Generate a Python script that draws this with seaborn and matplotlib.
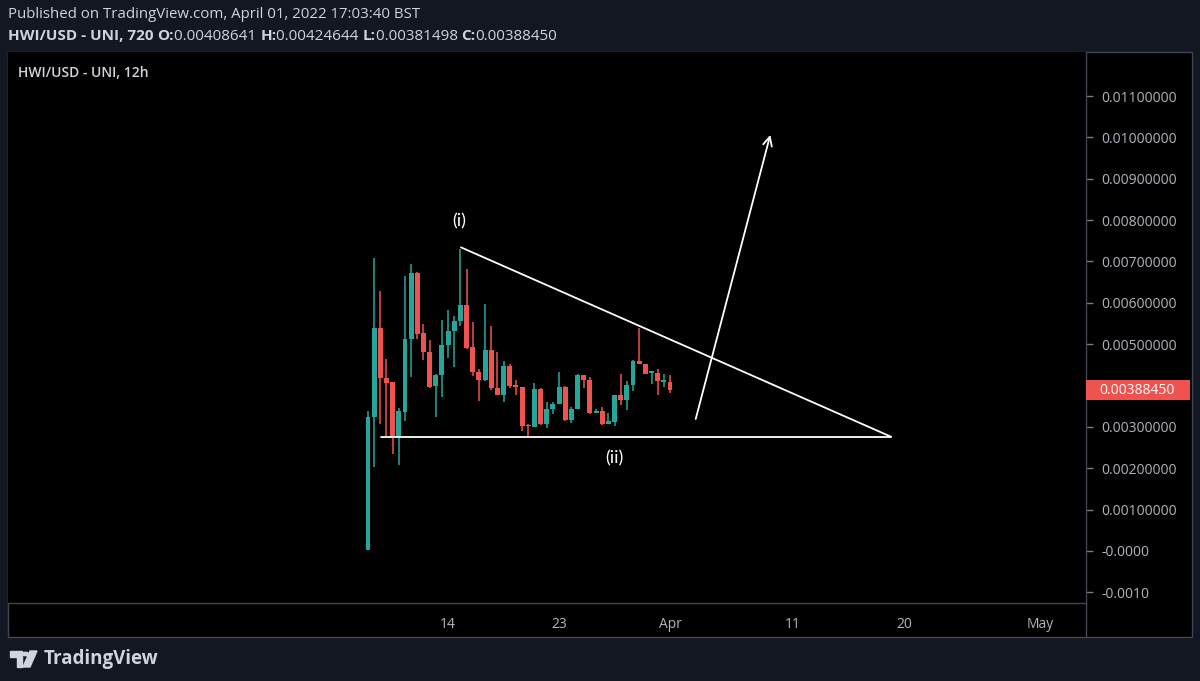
# HWI/USD 12h candles - TradingView style snapshot
import numpy as np
import pandas as pd
import matplotlib
matplotlib.use("Agg")
import matplotlib.pyplot as plt
import matplotlib.dates as mdates
from matplotlib.patches import Rectangle, Polygon, Circle
import seaborn as sns

#----------------------------------
# data
#----------------------------------
start_time = "2022-03-07 12:00"
opens = [0.00002, 0.00325, 0.00538, 0.00417, 0.00408, 0.00275, 0.00336, 0.00513, 0.00672, 0.00526,
         0.00480, 0.00398, 0.00425, 0.00497, 0.00531, 0.00555, 0.00594, 0.00493, 0.00433, 0.00413,
         0.00486, 0.00394, 0.00376, 0.00448, 0.00401, 0.00397, 0.00303, 0.00299, 0.00391, 0.00308,
         0.00343, 0.00356, 0.00397, 0.00316, 0.00344, 0.00425, 0.00413, 0.00334, 0.00339, 0.00308,
         0.00312, 0.00377, 0.00364, 0.00401, 0.00459, 0.00451, 0.00431, 0.00431, 0.00409, 0.00408641]
highs = [0.00338, 0.00709, 0.00628, 0.00465, 0.00408, 0.00346, 0.00666, 0.00695, 0.00675, 0.00548,
         0.00511, 0.00427, 0.00558, 0.00582, 0.00569, 0.00731, 0.00683, 0.00553, 0.00441, 0.00597,
         0.00545, 0.00482, 0.00460, 0.00453, 0.00414, 0.00397, 0.00308, 0.00407, 0.00393, 0.00359,
         0.00361, 0.00433, 0.00399, 0.00347, 0.00428, 0.00425, 0.00420, 0.00343, 0.00347, 0.00334,
         0.00377, 0.00429, 0.00410, 0.00461, 0.00540, 0.00451, 0.00436, 0.00441, 0.00429, 0.00424644]
lows = [0.00001, 0.00202, 0.00307, 0.00277, 0.00235, 0.00208, 0.00315, 0.00420, 0.00513, 0.00461,
        0.00394, 0.00324, 0.00372, 0.00467, 0.00444, 0.00544, 0.00488, 0.00422, 0.00362, 0.00412,
        0.00390, 0.00376, 0.00359, 0.00393, 0.00378, 0.00289, 0.00279, 0.00299, 0.00305, 0.00298,
        0.00330, 0.00355, 0.00315, 0.00309, 0.00344, 0.00394, 0.00331, 0.00333, 0.00305, 0.00308,
        0.00301, 0.00352, 0.00340, 0.00386, 0.00451, 0.00428, 0.00404, 0.00378, 0.00396, 0.00381498]
closes = [0.00325, 0.00538, 0.00417, 0.00406, 0.00275, 0.00338, 0.00513, 0.00672, 0.00525, 0.00480,
          0.00397, 0.00426, 0.00498, 0.00531, 0.00556, 0.00594, 0.00491, 0.00433, 0.00413, 0.00486,
          0.00393, 0.00376, 0.00448, 0.00400, 0.00396, 0.00301, 0.00301, 0.00391, 0.00307, 0.00344,
          0.00356, 0.00397, 0.00316, 0.00344, 0.00425, 0.00413, 0.00333, 0.00339, 0.00308, 0.00313,
          0.00377, 0.00364, 0.00402, 0.00459, 0.00451, 0.00428, 0.00434, 0.00410, 0.00412, 0.00388450]

# 0.004 label is hidden behind the last-price tag in the original
ytick_values = [-0.001, 0.0, 0.001, 0.002, 0.003, 0.005, 0.006, 0.007, 0.008, 0.009, 0.010, 0.011]
ytick_labels = ["-0.0010", "-0.0000", "0.00100000", "0.00200000", "0.00300000",
                "0.00500000", "0.00600000", "0.00700000", "0.00800000", "0.00900000",
                "0.01000000", "0.01100000"]
xtick_dates = ["2022-03-14", "2022-03-23", "2022-04-01", "2022-04-11", "2022-04-20", "2022-05-01"]
xtick_labels = ["14", "23", "Apr", "11", "20", "May"]

header_line1 = "Published on TradingView.com, April 01, 2022 17:03:40 BST"
symbol_title = "HWI/USD - UNI, 12h"
last_price_label = "0.00388450"

df = pd.DataFrame({"open": opens, "high": highs, "low": lows, "close": closes})
df["time"] = pd.date_range(start_time, periods=len(df), freq="12h")
df["x"] = mdates.date2num(df["time"])
df["up"] = df["close"] >= df["open"]

#----------------------------------
# style
#----------------------------------
sns.set_theme(style="dark")
plt.rcParams['font.family'] = ['Open Sans', 'DejaVu Sans']

GREEN = "#26a69a"
RED = "#ef5350"
TXT = "#b2b5be"
GRID = "#434651"
BAND = "#131722"

W, H = 1200, 681
fig = plt.figure(figsize=(W / 100, H / 100), dpi=100, facecolor=BAND)

def fx(px):
    return px / W

def fy(py):
    return 1 - py / H

# black chart panel with border
fig.add_artist(Rectangle((fx(8), fy(637)), fx(1192 - 8), (637 - 52) / H,
                         transform=fig.transFigure, facecolor="black",
                         edgecolor=GRID, lw=1.0, zorder=0))

ax = fig.add_axes([fx(8), fy(603), fx(1086 - 8), (603 - 52) / H])
ax.set_facecolor("black")

#----------------------------------
# candles
#----------------------------------
col = np.where(df["up"], GREEN, RED)
ax.vlines(df["x"], df["low"], df["high"], colors=col, lw=1.1, zorder=2)
body_bot = np.minimum(df["open"], df["close"])
body_h = np.maximum((df["close"] - df["open"]).abs(), 0.00004)
ax.bar(df["x"], body_h, bottom=body_bot, width=0.40, color=col, lw=0, zorder=3)

#----------------------------------
# drawings (triangle, arrow, wave labels)
#----------------------------------
apr1 = mdates.date2num(pd.Timestamp("2022-04-01"))
px_day = 12.327

def dx(px):
    return apr1 + (px - 670) / px_day

ax.plot([dx(461), dx(891)], [0.007342, 0.002762], color="white", lw=1.3, zorder=4)
ax.plot([dx(381), dx(891)], [0.002762, 0.002762], color="white", lw=1.3, zorder=4)
ax.annotate("", xy=(dx(771), 0.010128), xytext=(dx(695), 0.003126),
            arrowprops=dict(arrowstyle="->", color="white", lw=1.3,
                            mutation_scale=16), zorder=4)
ax.text(dx(459), 0.00797, "(i)", color="white", fontsize=13, ha="center", va="center",
        family=["Lato", "DejaVu Sans"])
ax.text(dx(614), 0.00225, "(ii)", color="white", fontsize=13, ha="center", va="center",
        family=["Lato", "DejaVu Sans"])

#----------------------------------
# axes
#----------------------------------
ax.set_xlim(dx(8), dx(1086))
ax.set_ylim(-0.00126, 0.012067)
ax.grid(False)

ax.yaxis.tick_right()
ax.set_yticks(ytick_values)
ax.set_yticklabels(ytick_labels)
ax.tick_params(axis="y", direction="out", length=5, width=1, color="#787b86",
               labelcolor=TXT, labelsize=10, pad=6, right=True, left=False)

ax.set_xticks(mdates.date2num(pd.to_datetime(xtick_dates)))
ax.set_xticklabels(xtick_labels)
ax.tick_params(axis="x", length=0, labelcolor=TXT, labelsize=10, pad=10)

for s in ["top", "left"]:
    ax.spines[s].set_visible(False)
for s in ["right", "bottom"]:
    ax.spines[s].set_color(GRID)
    ax.spines[s].set_linewidth(1.0)

# separator under price scale in the time-axis strip
fig.add_artist(plt.Line2D([fx(1086), fx(1086)], [fy(603), fy(637)], color=GRID, lw=1.0,
                          transform=fig.transFigure))

# last price tag
tag_h = 0.00048
ax.add_patch(Rectangle((1.0, closes[-1] - tag_h / 2), 104 / 1078, tag_h,
                       transform=ax.get_yaxis_transform(), facecolor=RED,
                       edgecolor="none", clip_on=False, zorder=5))
ax.text(1.0 + 13 / 1078, closes[-1], last_price_label, transform=ax.get_yaxis_transform(),
        color="white", fontsize=10, va="center", ha="left", clip_on=False, zorder=6)

ax.text(10 / 1078, 1 - 21 / 551, symbol_title, transform=ax.transAxes, color="#d1d4dc",
        fontsize=10, fontweight="semibold", va="center", ha="left")

#----------------------------------
# header / footer
#----------------------------------
fig.text(fx(8), fy(15), header_line1, color="#d1d4dc", fontsize=10.8, va="center", ha="left")

parts = [("HWI/USD - UNI, 720 ", "bold"), ("O:", "bold"), ("0.00408641 ", "normal"),
         ("H:", "bold"), ("0.00424644 ", "normal"), ("L:", "bold"), ("0.00381498 ", "normal"),
         ("C:", "bold"), ("0.00388450", "normal")]
renderer = fig.canvas.get_renderer()
xpos = fx(8)
for txt, wt in parts:
    t = fig.text(xpos, fy(36), txt, color="#d1d4dc", fontsize=11, fontweight=wt,
                 va="center", ha="left")
    bb = t.get_window_extent(renderer=renderer)
    xpos += bb.width / W

# TradingView logo
logo = "#d1d4dc"
fig.add_artist(Polygon([(fx(10), fy(651)), (fx(22), fy(651)), (fx(22), fy(667)),
                        (fx(17), fy(667)), (fx(17), fy(657)), (fx(10), fy(657))],
                       closed=True, transform=fig.transFigure, color=logo))
fig.add_artist(Circle((fx(25.5), fy(654)), 3 / W, transform=fig.transFigure, color=logo))
fig.add_artist(Polygon([(fx(30), fy(651)), (fx(37), fy(651)), (fx(30), fy(667)),
                        (fx(23), fy(667))],
                       closed=True, transform=fig.transFigure, color=logo))
fig.text(fx(44), fy(659), "TradingView", color=logo, fontsize=13.5, fontweight="bold",
         va="center", ha="left")

fig.savefig("out.png", dpi=100, facecolor=fig.get_facecolor())
